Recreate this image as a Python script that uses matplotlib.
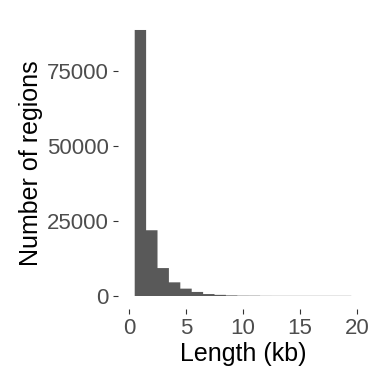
import numpy as np
import matplotlib.pyplot as plt

plt.rcParams['font.family'] = ['Liberation Sans', 'DejaVu Sans']

# histogram bins (kb) and counts
bin_edges = [0.5 + i * 1.0 for i in range(20)]
counts = [88600, 21900, 9300, 4550, 2450, 1350, 650, 380, 200, 110,
          100, 55, 50, 50, 50, 50, 50, 50, 50]

fig = plt.figure(figsize=(3.73, 3.74), dpi=100)
ax = fig.add_axes([0.3153, 0.173, 0.6724, 0.7824])

# one filled step polygon, so no seams show between bars
ax.hist(bin_edges[:-1], bins=bin_edges, weights=counts, color='#595959',
        histtype='stepfilled', linewidth=0, snap=False)

ax.set_xlim(-1, 21)
ax.set_ylim(-4430, 93030)
ax.set_xticks([0, 5, 10, 15, 20])
ax.set_yticks([0, 25000, 50000, 75000])

for s in ax.spines.values():
    s.set_visible(False)
ax.tick_params(colors='#333333', length=3.3, width=0.8, labelsize=16,
               labelcolor='#4D4D4D', pad=3)

ax.set_xlabel('Length (kb)', fontsize=18, color='black', labelpad=2)
ax.set_ylabel('Number of regions', fontsize=18, color='black', labelpad=3)

fig.savefig('out.png', dpi=100)
